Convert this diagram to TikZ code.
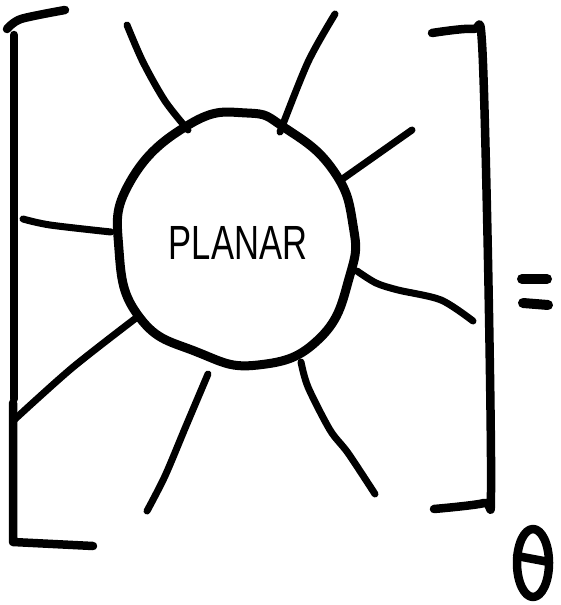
\documentclass[tikz,border=0pt]{standalone}
\usepackage{fontspec}
\setmainfont{Liberation Sans}
\begin{document}
\begin{tikzpicture}[x=1pt,y=-1pt,
  ink/.style={line width=8.5pt, line cap=round, line join=round},
  ray/.style={line width=7pt, line cap=round, line join=round}]
\useasboundingbox (0,0) rectangle (560,605);
% circle
\draw[ink, line width=9pt] plot[smooth cycle, tension=0.8] coordinates {(190,124) (247,113) (285,128) (333,170) (353,225) (350,275) (320,338) (258,365) (197,352) (140,318) (119,250) (130,182)};
\node[font=\fontsize{48}{48}\selectfont, xscale=0.72, inner sep=0] (planar) at (238,243) {PLANAR};
% rays
\draw[ray] plot[smooth] coordinates {(127,25) (143,62) (165,101) (188,130)};
\draw[ray] plot[smooth] coordinates {(335,14) (308,62) (280,132)};
\draw[ray] (412,130) -- (341,180);
\draw[ray] plot[smooth] coordinates {(357,271) (376,283) (398,290) (441,300) (473,321)};
\draw[ray] plot[smooth] coordinates {(301,362) (308,387) (330,430) (348,453) (375,494)};
\draw[ray] plot[smooth] coordinates {(208,374) (186,426) (165,476) (147,511)};
\draw[ray] plot[smooth] coordinates {(136,318) (72,368) (14,420)};
\draw[ray] plot[smooth] coordinates {(23,219) (50,225) (111,232)};
% left bracket
\draw[ink] plot[smooth] coordinates {(65,10) (21,19) (7,29)};
\draw[ink] (14,35) -- (14,399);
\draw[ink] (13,403) -- (13,542) -- (93,546);
% right bracket
\draw[ink] plot[smooth, tension=0.5] coordinates {(432,33) (473,29) (482,43) (488,260) (491,492) (484,503) (434,509)};
% equals
\draw[line width=10pt, line cap=round] (522,279) -- (547,279);
\draw[line width=10pt, line cap=round] (523,303) -- (548,305);
% theta
\draw[ink] (533,563) ellipse [x radius=16, y radius=34];
\draw[ink] (517,556) -- (549,562);
\end{tikzpicture}
\end{document}
